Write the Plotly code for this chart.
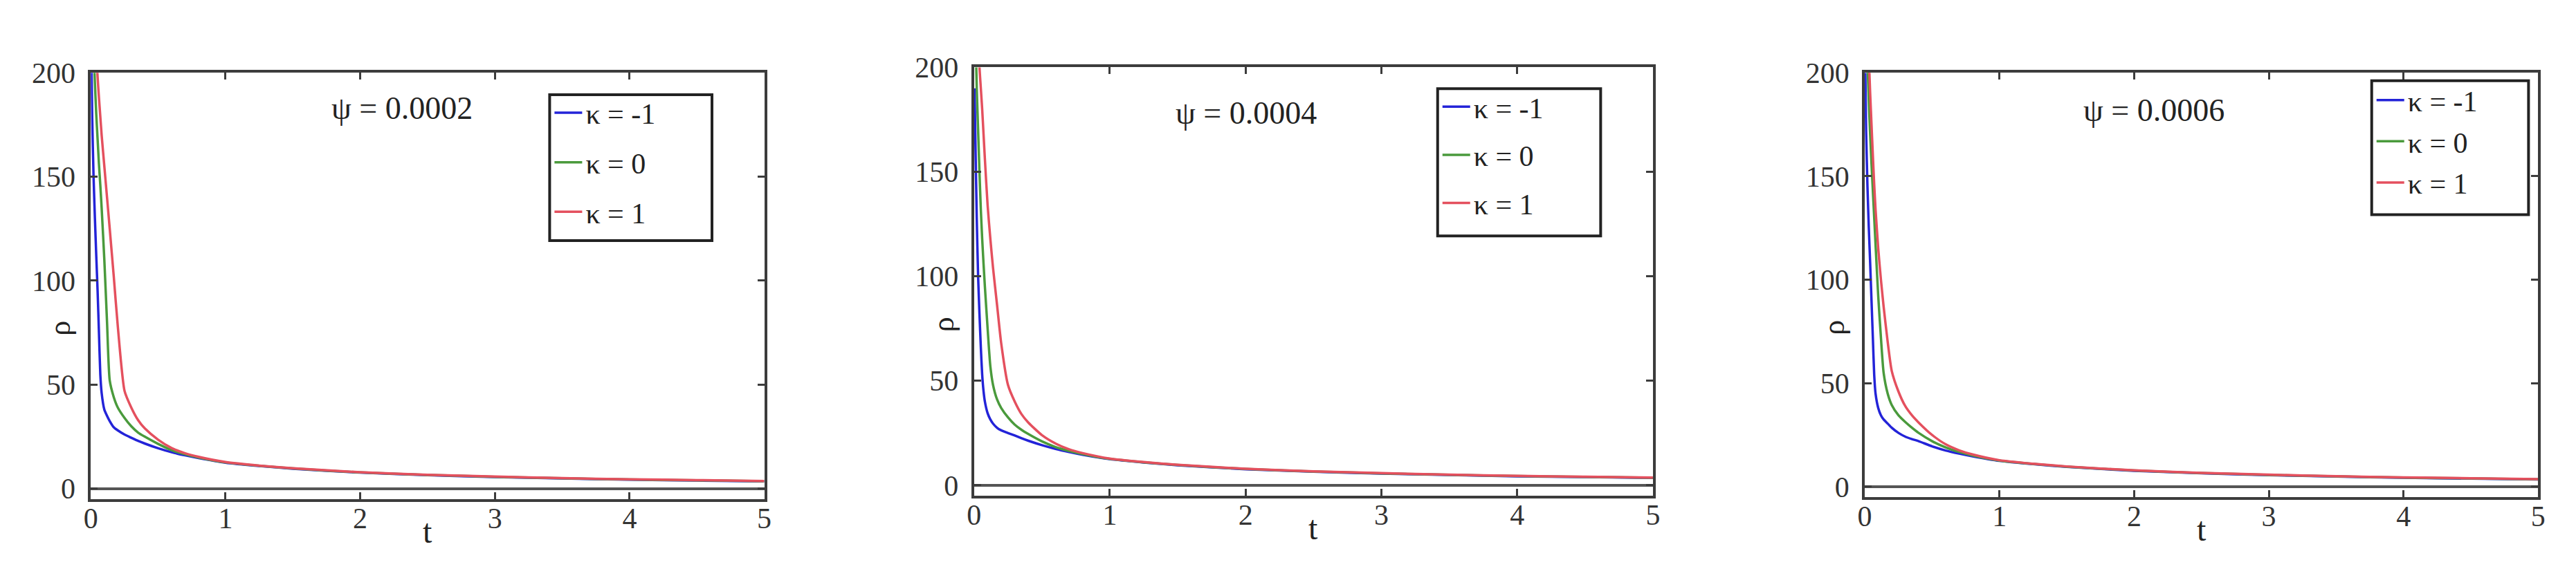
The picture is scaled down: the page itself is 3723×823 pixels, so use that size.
import plotly.graph_objects as go

# shared time grid (t)
T = [0.004, 0.01, 0.02, 0.03, 0.04, 0.05, 0.06, 0.07, 0.08, 0.1, 0.12, 0.14,
     0.17, 0.2, 0.25, 0.3, 0.35, 0.4, 0.5, 0.6, 0.7, 0.8, 1.0, 1.25, 1.5,
     2, 2.5, 3, 3.5, 4, 4.5, 5]

PSI = ["0.0002", "0.0004", "0.0006"]
KAPPA = ["κ = -1", "κ = 0", "κ = 1"]
COLORS = ["#2323d8", "#4a9a3c", "#e4505e"]

# rho(t), psi = 0.0002
RHO1_M1 = [205, 178, 150, 130, 112, 95, 75, 55, 46, 38, 35, 32.5, 29.5, 28, 26, 24.5,
           23, 21.7, 19.4, 17.5, 16, 14.7, 12.5, 10.9, 9.6, 7.7, 6.5, 5.6, 4.9, 4.3, 3.9, 3.5]
RHO1_0 = [260, 240, 212, 195, 180, 168, 156, 146, 135, 110, 80, 52, 44, 39, 34, 30,
          27, 25, 21.5, 18.5, 16.5, 15, 12.6, 11.0, 9.7, 7.8, 6.6, 5.7, 5.0, 4.4, 4.0, 3.6]
RHO1_P1 = [300, 275, 245, 225, 210, 198, 188, 179, 170, 155, 140, 125, 102, 78, 47, 39,
           33, 29, 23.5, 19.5, 17, 15.3, 12.8, 11.1, 9.8, 7.9, 6.7, 5.8, 5.1, 4.5, 4.1, 3.7]

# rho(t), psi = 0.0004
RHO2_M1 = [190, 165, 128, 100, 82, 66, 53, 45, 40, 34.5, 31.5, 29.5, 27.5, 26.3, 25, 23.8,
           22.5, 21.3, 19.2, 17.4, 15.9, 14.6, 12.5, 10.9, 9.6, 7.7, 6.5, 5.6, 4.9, 4.3, 3.9, 3.5]
RHO2_0 = [240, 220, 190, 170, 150, 132, 118, 106, 95, 75, 57, 48, 41, 37, 32.5, 29,
          26.5, 24.5, 21, 18.3, 16.4, 14.9, 12.6, 11.0, 9.7, 7.8, 6.6, 5.7, 5.0, 4.4, 4.0, 3.6]
RHO2_P1 = [280, 258, 232, 214, 200, 190, 180, 168, 156, 134, 118, 104, 86, 68, 48, 40,
           34, 30, 24, 20, 17.2, 15.4, 12.8, 11.1, 9.8, 7.9, 6.7, 5.8, 5.1, 4.5, 4.1, 3.7]

# rho(t), psi = 0.0006
RHO3_M1 = [200, 172, 145, 125, 108, 90, 72, 54, 45, 38, 34.5, 32.5, 30.5, 28.5, 26, 24.2,
           23, 22, 19.5, 17.5, 16, 14.7, 12.5, 10.9, 9.6, 7.7, 6.5, 5.6, 4.9, 4.3, 3.9, 3.5]
RHO3_0 = [250, 230, 205, 186, 170, 156, 143, 130, 117, 92, 72, 55, 45, 39.5, 34.5, 31.3,
          28.5, 26, 22, 19, 16.8, 15.1, 12.6, 11.0, 9.7, 7.8, 6.6, 5.7, 5.0, 4.4, 4.0, 3.6]
RHO3_P1 = [270, 252, 228, 208, 190, 175, 160, 146, 134, 115, 100, 87, 70, 56, 46, 39,
           34.5, 31, 25, 20.5, 17.6, 15.6, 12.8, 11.1, 9.8, 7.9, 6.7, 5.8, 5.1, 4.5, 4.1, 3.7]

RHO = [[RHO1_M1, RHO1_0, RHO1_P1],
       [RHO2_M1, RHO2_0, RHO2_P1],
       [RHO3_M1, RHO3_0, RHO3_P1]]

X_TICKS = [0, 1, 2, 3, 4, 5]
Y_TICKS = [0, 50, 100, 150, 200]

W, H = 3723, 823
# plot boxes in pixels: left, right, top, bottom
BOXES = [(113, 1092, 78, 718), (1397, 2384, 70, 713), (2692, 3671, 78, 715)]
# legend frames in pixels: left, top, right, bottom
FRAMES = [(780, 111, 1016, 330), (2071, 102, 2308, 323), (3429, 90, 3657, 291)]
LEG_TOP = [103, 94, 84]
LEG_GAP = [14, 12, 2]
PSI_POS = [(565, 131), (1793, 139), (3112, 134)]

SERIF = "Liberation Serif, Times New Roman, serif"
AXIS_COLOR = "#3c3c3c"

fig = go.Figure()
annotations = []
shapes = []
layout = {}

for p in range(3):
    left, right, top, bottom = BOXES[p]
    sfx = "" if p == 0 else str(p + 1)
    for k in range(3):
        fig.add_trace(go.Scatter(
            x=T, y=RHO[p][k], mode="lines", name=KAPPA[k],
            line=dict(color=COLORS[k], width=3.5, shape="spline", smoothing=0.6),
            xaxis="x" + sfx, yaxis="y" + sfx,
            legend="legend" + sfx, legendgroup=KAPPA[k],
        ))

    common = dict(showline=True, linecolor=AXIS_COLOR, linewidth=4, mirror="ticks",
                  ticks="inside", ticklen=10, tickwidth=3, tickcolor=AXIS_COLOR,
                  showgrid=False, tickfont=dict(family=SERIF, size=42, color="#333"))
    layout["xaxis" + sfx] = dict(common, domain=[left / W, right / W], range=[0, 5],
                                 tickvals=X_TICKS, zeroline=False,
                                 ticklabelstandoff=-12, anchor="y" + sfx)
    layout["yaxis" + sfx] = dict(common, domain=[1 - bottom / H, 1 - top / H],
                                 range=[-5, 200], tickvals=Y_TICKS,
                                 zeroline=True, zerolinecolor="#555", zerolinewidth=4,
                                 ticklabelstandoff=10, anchor="x" + sfx)

    fl, ft, fr, fb = FRAMES[p]
    shapes.append(dict(type="rect", xref="paper", yref="paper",
                       x0=fl / W, x1=fr / W, y0=1 - fb / H, y1=1 - ft / H,
                       line=dict(color="#222", width=4), fillcolor="white", layer="above"))
    layout["legend" + sfx] = dict(x=(fl + 2) / W, y=1 - LEG_TOP[p] / H,
                                  xanchor="left", yanchor="top",
                                  bgcolor="rgba(0,0,0,0)", borderwidth=0,
                                  font=dict(family=SERIF, size=42, color="#222"),
                                  itemwidth=40, tracegroupgap=LEG_GAP[p])

    px_, py_ = PSI_POS[p]
    annotations.append(dict(text="ψ = " + PSI[p], x=px_ / W, y=1 - py_ / H,
                            xref="paper", yref="paper", showarrow=False,
                            xanchor="center", yanchor="middle",
                            font=dict(family=SERIF, size=46, color="#222")))
    annotations.append(dict(text="ρ", x=(left - 45) / W, y=1 - (top + 0.6 * (bottom - top)) / H,
                            xref="paper", yref="paper", showarrow=False, textangle=-90,
                            xanchor="center", yanchor="middle",
                            font=dict(family=SERIF, size=44, color="#222")))
    annotations.append(dict(text="t", x=(left + right) / 2 / W, y=1 - (bottom + 48) / H,
                            xref="paper", yref="paper", showarrow=False,
                            xanchor="center", yanchor="middle",
                            font=dict(family=SERIF, size=48, color="#222")))

fig.update_layout(**layout)
fig.update_layout(
    width=W, height=H,
    margin=dict(l=0, r=0, t=0, b=0),
    paper_bgcolor="white", plot_bgcolor="white",
    showlegend=True,
    annotations=annotations,
    shapes=shapes,
)

fig.write_html("out.html")
